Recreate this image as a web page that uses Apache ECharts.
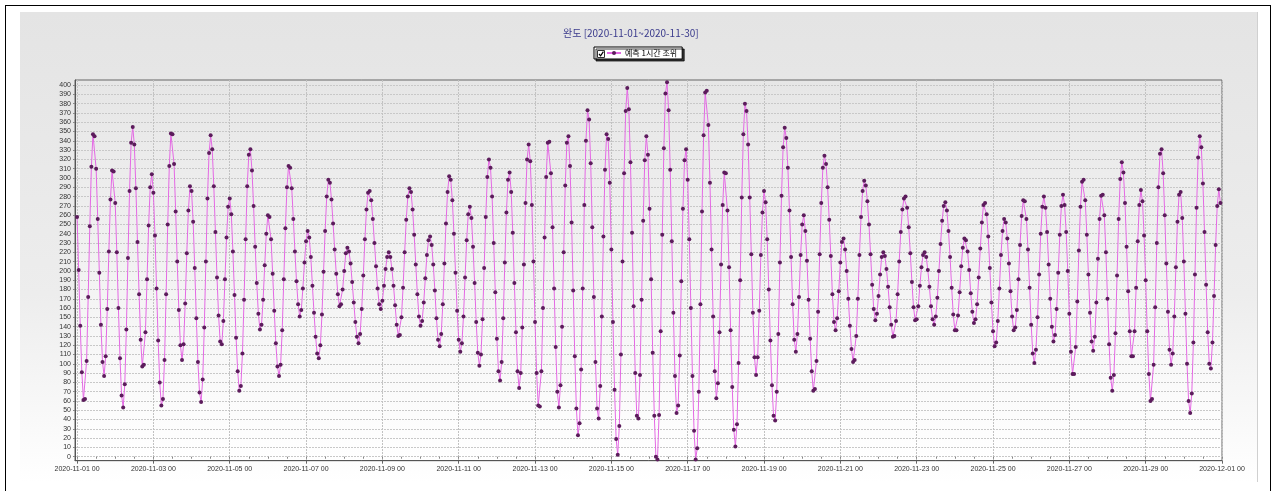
<!DOCTYPE html>
<html><head><meta charset="utf-8">
<script src="https://cdn.jsdelivr.net/npm/echarts@6/dist/echarts.min.js"></script>
<style>
html,body{margin:0;padding:0;background:#fff;}
#frame{position:absolute;left:5px;top:5px;width:1266px;height:500px;border:1px solid #000;box-sizing:border-box;}
#panel{position:absolute;left:20px;top:12px;width:1238px;height:470px;background:linear-gradient(#e4e4e4 0%,#ededed 60%,#ffffff 100%);border-right:1px solid #d0d0d0;box-sizing:border-box;}
#c{position:absolute;left:0;top:0;width:1275px;height:491px;}
</style>
</head><body>
<div id="frame"></div><div id="panel"></div><div id="c"></div>
<script>
const chartTitle = '완도 [2020-11-01~2020-11-30]';
const seriesName = '예측 1시간 조위';
const xTickLabels = ['2020-11-01 00','2020-11-03 00','2020-11-05 00','2020-11-07 00','2020-11-09 00','2020-11-11 00','2020-11-13 00','2020-11-15 00','2020-11-17 00','2020-11-19 00','2020-11-21 00','2020-11-23 00','2020-11-25 00','2020-11-27 00','2020-11-29 00','2020-12-01 00'];
const yTickValues = [0,10,20,30,40,50,60,70,80,90,100,110,120,130,140,150,160,170,180,190,200,210,220,230,240,250,260,270,280,290,300,310,320,330,340,350,360,370,380,390,400];
// hourly predicted tide level (cm), 2020-11-01 00 .. 2020-11-30 23
const tideLevels = [
258,201,141,91,61,62,103,172,248,312,347,345,310,256,198,142,102,87,108,159,221,277,308,307,
273,220,160,106,66,53,78,137,214,286,338,355,336,289,231,175,126,97,99,134,191,249,290,304,
284,238,181,125,80,55,62,104,175,250,313,348,347,315,264,210,158,120,104,121,165,219,265,291,
286,253,203,149,102,69,59,83,139,210,278,327,346,331,291,242,193,152,124,121,146,191,236,269,
278,261,221,174,128,92,71,76,111,169,234,291,325,331,308,270,226,187,154,137,142,169,206,240,
260,258,234,197,157,122,97,87,99,136,191,246,290,313,311,289,256,221,189,164,151,158,181,209,
232,243,236,215,184,155,129,111,106,120,153,199,243,280,298,295,277,251,223,197,175,162,164,180,
200,219,225,221,208,188,166,145,129,122,132,159,195,234,266,284,286,276,256,230,205,181,164,159,
168,184,202,215,220,215,202,184,163,142,130,131,150,182,220,255,280,289,285,266,239,207,175,151,
141,146,166,192,217,233,237,228,207,179,149,126,119,132,164,208,251,285,302,298,276,240,198,157,
126,113,122,151,193,233,261,269,257,226,187,145,112,98,110,148,203,258,301,320,311,280,230,177,
127,92,82,102,149,209,263,298,306,285,241,187,134,92,74,90,139,207,273,320,336,318,271,210,
145,90,55,54,92,160,236,301,338,339,305,247,181,118,70,53,77,140,220,292,338,345,313,252,
179,108,52,23,36,94,181,271,340,373,363,316,247,172,102,52,41,76,151,237,309,347,342,295,
223,145,72,19,2,33,110,210,305,372,397,374,317,241,162,90,44,41,88,169,254,319,345,325,
267,191,112,44,0,-3,45,135,239,332,391,403,373,309,232,155,87,47,55,109,189,267,319,331,
298,234,160,87,28,-3,9,70,164,264,346,392,394,357,295,223,151,92,63,79,134,207,271,306,
305,265,204,136,75,29,11,35,101,190,279,347,380,372,336,279,218,155,107,88,107,157,217,263,
286,274,234,180,125,77,44,39,70,132,209,281,333,354,343,311,265,215,164,126,113,132,172,217,
250,260,243,211,169,127,92,71,73,103,156,218,273,311,324,315,290,255,216,175,145,136,149,178,
209,231,235,223,200,170,141,116,102,104,130,170,217,258,286,297,292,275,250,218,185,159,147,154,
173,196,215,220,216,202,183,161,142,129,130,146,175,210,242,266,278,280,268,247,219,188,161,147,
148,162,184,204,217,220,215,201,183,162,148,142,151,171,200,229,254,270,274,265,243,215,182,153,
136,136,152,177,205,225,235,233,221,201,176,156,144,148,164,193,224,252,271,273,261,237,203,166,
135,119,123,146,181,217,243,256,252,235,208,178,151,136,139,158,191,228,259,276,275,256,223,182,
142,111,101,115,150,196,240,269,280,268,242,207,170,140,124,131,159,198,239,270,282,271,242,200,
154,113,89,89,118,167,222,269,296,298,276,239,196,155,124,114,129,166,213,256,281,282,260,220,
170,121,85,71,88,133,195,256,299,317,306,273,226,178,135,108,108,135,182,232,271,287,275,238,
190,135,89,60,62,99,161,230,290,326,331,305,260,208,156,115,99,111,151,204,253,282,285,257,
210,154,100,60,47,68,123,196,268,322,345,333,294,242,185,134,100,95,123,173,228,270,288,273
];

const HOURS_PER_LABEL = 48;
const majorHours = xTickLabels.map((_, i) => i * HOURS_PER_LABEL);
const minorHours = [];
for (let h = 0; h <= 720; h += 12) minorHours.push(h);
const seriesData = tideLevels.map((v, i) => [i, v]);

const chart = echarts.init(document.getElementById('c'), null, {renderer: 'canvas'});
const labelFont = {fontFamily: 'Liberation Sans, DejaVu Sans, sans-serif', fontSize: 7, color: '#333'};
chart.setOption({
  animation: false,
  backgroundColor: 'transparent',
  title: {
    text: chartTitle, left: 563, top: 28, padding: 0,
    textStyle: {fontFamily: 'Noto Sans CJK KR, sans-serif', fontSize: 10, fontWeight: 'normal', color: '#3a3a8c'}
  },
  legend: {
    data: [seriesName], left: 594, top: 47, selectedMode: false,
    padding: [2, 5, 2, 12], itemWidth: 14, itemHeight: 5, itemGap: 0,
    backgroundColor: '#fff', borderColor: '#000', borderWidth: 1, borderRadius: 0,
    shadowColor: 'rgba(0,0,0,0.75)', shadowOffsetX: 2, shadowOffsetY: 2, shadowBlur: 0,
    textStyle: {fontFamily: 'Noto Sans CJK KR, sans-serif', fontSize: 8, color: '#000', padding: [0, 0, 0, -1]}
  },
  graphic: [
    {type: 'rect', z: 100, shape: {x: 597.5, y: 50.5, width: 7, height: 7}, style: {fill: '#fff', stroke: '#333', lineWidth: 1}},
    {type: 'polyline', z: 101, shape: {points: [[599, 54], [600.6, 55.8], [603.4, 51.6]]}, style: {stroke: '#000', lineWidth: 1.2, fill: null}}
  ],
  grid: {
    left: 75, right: 53, top: 80, bottom: 30.3, show: true,
    borderColor: '#666', borderWidth: 1,
    backgroundColor: new echarts.graphic.LinearGradient(0, 0, 0, 1, [
      {offset: 0, color: '#e6e6e6'}, {offset: 1, color: '#ffffff'}
    ])
  },
  xAxis: [{
    type: 'value', min: -1.3, max: 720,
    axisLine: {onZero: false, lineStyle: {color: '#555', width: 1}},
    axisTick: {show: true, customValues: majorHours, length: 3, lineStyle: {color: '#666'}},
    axisLabel: {customValues: majorHours, margin: 5, ...labelFont,
      formatter: v => xTickLabels[Math.round(v / HOURS_PER_LABEL)]},
    splitLine: {show: true, lineStyle: {color: '#c2c2c2', type: [2, 1], width: 1}}
  }, {
    type: 'value', min: -1.3, max: 720, position: 'bottom',
    axisLine: {show: false}, axisLabel: {show: false}, splitLine: {show: false},
    axisTick: {show: true, customValues: minorHours, length: 2, lineStyle: {color: '#888'}}
  }],
  yAxis: {
    type: 'value', min: -4.3, max: 405.5,
    axisLine: {show: true, onZero: false, lineStyle: {color: '#555', width: 1}},
    axisTick: {show: true, customValues: yTickValues, length: 2, lineStyle: {color: '#888'}},
    axisLabel: {customValues: yTickValues, margin: 4, ...labelFont},
    splitLine: {show: true, lineStyle: {color: '#c8c8c8', type: [2, 1], width: 1}}
  },
  series: [{
    type: 'line', name: seriesName, xAxisIndex: 0, data: seriesData,
    symbol: 'circle', symbolSize: 4, showSymbol: true, showAllSymbol: true,
    lineStyle: {color: '#e469e4', width: 1},
    itemStyle: {color: '#5c1c5c', borderWidth: 0},
    emphasis: {disabled: true}
  }]
});
</script>
</body></html>
